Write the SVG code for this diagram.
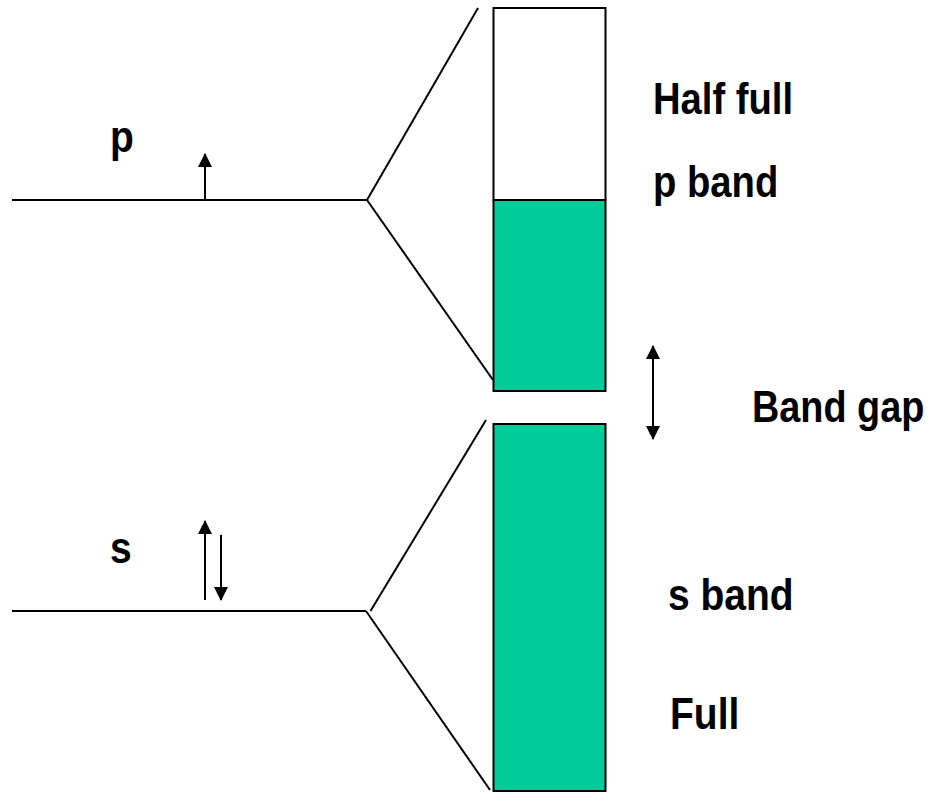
<svg xmlns="http://www.w3.org/2000/svg" width="935" height="794" viewBox="0 0 935 794">
<style>
.ln{stroke:#000;stroke-width:2;fill:none}
.bx{stroke:#000;stroke-width:2}
.t{font-family:"Liberation Sans",Arial,sans-serif;font-weight:bold;font-size:39px;fill:#000}
</style>
<defs>
<marker id="ah" markerUnits="userSpaceOnUse" markerWidth="14" markerHeight="16" refX="13" refY="7" orient="auto-start-reverse" viewBox="0 0 14 14">
<path d="M0,0 L14,7 L0,14 Z" fill="#000"/>
</marker>
</defs>
<rect width="935" height="794" fill="#fff"/>
<g id="levels">
<line class="ln" x1="12" y1="200" x2="367" y2="200"/>
<line class="ln" x1="12" y1="611" x2="366" y2="611"/>
</g>
<g id="p-band">
<rect class="bx" x="493.5" y="8" width="112" height="192" fill="#fff"/>
<rect class="bx" x="493.5" y="200" width="112" height="191" fill="#00CC99"/>
</g>
<g id="s-band">
<rect class="bx" x="493.5" y="424" width="112" height="367" fill="#00CC99"/>
</g>
<g id="connectors">
<line class="ln" x1="367" y1="200" x2="478" y2="8"/>
<line class="ln" x1="367" y1="200" x2="493" y2="380"/>
<line class="ln" x1="370.5" y1="611" x2="486" y2="420"/>
<line class="ln" x1="366" y1="611" x2="490" y2="790"/>
<line class="ln" x1="205" y1="200" x2="205" y2="154" marker-end="url(#ah)"/>
<line class="ln" x1="205" y1="600" x2="205" y2="521" marker-end="url(#ah)"/>
<line class="ln" x1="221" y1="535" x2="221" y2="600" marker-end="url(#ah)"/>
<line class="ln" x1="653" y1="346" x2="653" y2="439" marker-start="url(#ah)" marker-end="url(#ah)"/>
</g>
<g id="labels">
<text class="t" transform="translate(110,152) scale(1,1.15)">p</text>
<text class="t" transform="translate(110,563) scale(1,1.15)">s</text>
<text class="t" transform="translate(653,114) scale(0.98,1.15)">Half full</text>
<text class="t" transform="translate(653,197) scale(0.98,1.15)">p band</text>
<text class="t" transform="translate(752,422) scale(0.97,1.15)">Band gap</text>
<text class="t" transform="translate(668,610) scale(1,1.15)">s band</text>
<text class="t" transform="translate(670,729) scale(1,1.15)">Full</text>
</g>
</svg>
